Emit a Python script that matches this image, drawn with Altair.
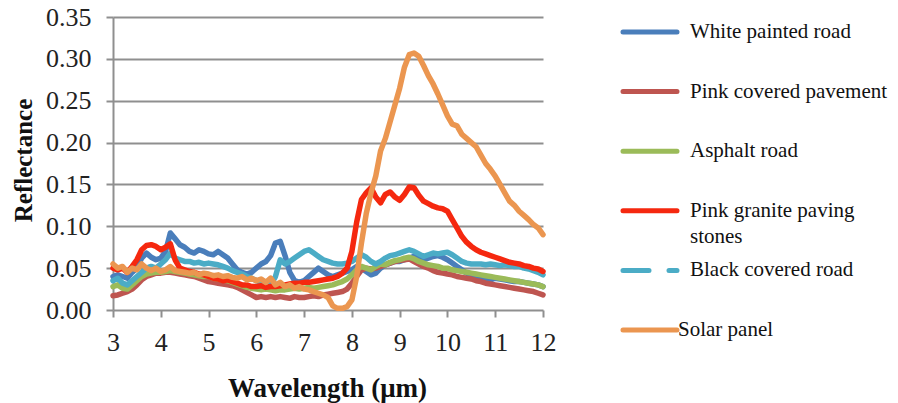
import altair as alt
import pandas as pd

WAVELENGTH = [3.0, 3.1, 3.2, 3.3, 3.4, 3.5, 3.6, 3.7, 3.8, 3.9,
              4.0, 4.1, 4.2, 4.3, 4.4, 4.5, 4.6, 4.7, 4.8, 4.9,
              5.0, 5.1, 5.2, 5.3, 5.4, 5.5, 5.6, 5.7, 5.8, 5.9,
              6.0, 6.1, 6.2, 6.3, 6.4, 6.5, 6.6, 6.7, 6.8, 6.9,
              7.0, 7.1, 7.2, 7.3, 7.4, 7.5, 7.6, 7.7, 7.8, 7.9,
              8.0, 8.1, 8.2, 8.3, 8.4, 8.5, 8.6, 8.7, 8.8, 8.9,
              9.0, 9.1, 9.2, 9.3, 9.4, 9.5, 9.6, 9.7, 9.8, 9.9,
              10.0, 10.1, 10.2, 10.3, 10.4, 10.5, 10.6, 10.7, 10.8, 10.9,
              11.0, 11.1, 11.2, 11.3, 11.4, 11.5, 11.6, 11.7, 11.8, 11.9,
              12.0]

WHITE_PAINTED = [0.040, 0.042, 0.040, 0.038, 0.045, 0.050, 0.062, 0.068, 0.063, 0.060,
                 0.062, 0.070, 0.092, 0.085, 0.078, 0.075, 0.070, 0.068, 0.072, 0.070,
                 0.067, 0.066, 0.070, 0.066, 0.062, 0.055, 0.048, 0.045, 0.043, 0.045,
                 0.050, 0.055, 0.058, 0.065, 0.080, 0.082, 0.065, 0.045, 0.035, 0.033,
                 0.035, 0.040, 0.045, 0.050, 0.046, 0.042, 0.040, 0.042, 0.044, 0.046,
                 0.048, 0.052, 0.050, 0.046, 0.042, 0.044, 0.050, 0.054, 0.056, 0.058,
                 0.058, 0.060, 0.062, 0.064, 0.062, 0.060, 0.062, 0.064, 0.065, 0.063,
                 0.060, 0.056, 0.052, 0.048, 0.044, 0.041, 0.039, 0.037, 0.036, 0.036,
                 0.038, 0.037, 0.036, 0.035, 0.034, 0.034, 0.033, 0.032, 0.031, 0.030,
                 0.028]

PINK_COVERED = [0.017, 0.018, 0.020, 0.022, 0.025, 0.030, 0.036, 0.040, 0.042, 0.044,
                0.044, 0.045, 0.045, 0.044, 0.043, 0.042, 0.041, 0.040, 0.038, 0.036,
                0.034, 0.033, 0.032, 0.031, 0.030, 0.029, 0.027, 0.024, 0.021, 0.018,
                0.015, 0.016, 0.015, 0.016, 0.015, 0.016, 0.015, 0.014, 0.016, 0.015,
                0.015, 0.016, 0.017, 0.016, 0.018, 0.019, 0.020, 0.021, 0.022, 0.025,
                0.032, 0.040, 0.048, 0.050, 0.049, 0.050, 0.052, 0.054, 0.056, 0.058,
                0.059, 0.060, 0.061, 0.058, 0.055, 0.052, 0.050, 0.047, 0.045, 0.044,
                0.043, 0.042, 0.040, 0.039, 0.038, 0.037, 0.035, 0.034, 0.032, 0.031,
                0.030, 0.029, 0.028, 0.027, 0.026, 0.025, 0.024, 0.023, 0.022, 0.020,
                0.018]

ASPHALT = [0.028, 0.030, 0.026, 0.025, 0.030, 0.035, 0.040, 0.043, 0.044, 0.045,
           0.045, 0.046, 0.047, 0.046, 0.045, 0.044, 0.043, 0.042, 0.041, 0.040,
           0.040, 0.038, 0.037, 0.036, 0.035, 0.033, 0.031, 0.029, 0.027, 0.026,
           0.025, 0.024, 0.025, 0.024, 0.023, 0.024, 0.024, 0.025, 0.026, 0.025,
           0.026, 0.027, 0.026, 0.027, 0.028, 0.029, 0.030, 0.032, 0.034, 0.037,
           0.042, 0.048, 0.052, 0.050, 0.048, 0.052, 0.055, 0.054, 0.057, 0.059,
           0.060, 0.062, 0.063, 0.061, 0.058, 0.056, 0.054, 0.053, 0.052, 0.050,
           0.050, 0.048, 0.047, 0.046, 0.045, 0.044, 0.043, 0.042, 0.041, 0.040,
           0.039, 0.038, 0.037, 0.036, 0.035, 0.034, 0.033, 0.032, 0.031, 0.030,
           0.028]

BLACK_COVERED = [0.035, 0.038, 0.032, 0.030, 0.035, 0.040, 0.045, 0.050, 0.052, 0.050,
                 0.055, 0.060, 0.068, 0.062, 0.060, 0.058, 0.058, 0.056, 0.057, 0.055,
                 0.056, 0.055, 0.054, 0.052, 0.050, 0.047, 0.045, 0.043, 0.040, 0.038,
                 0.035, 0.033, 0.030, 0.030, 0.040, 0.060, 0.055, 0.058, 0.062, 0.066,
                 0.070, 0.072, 0.068, 0.064, 0.060, 0.058, 0.056, 0.055, 0.055, 0.056,
                 0.058, 0.062, 0.066, 0.063, 0.058, 0.055, 0.058, 0.062, 0.065, 0.066,
                 0.068, 0.070, 0.072, 0.070, 0.067, 0.064, 0.066, 0.068, 0.067, 0.068,
                 0.069, 0.066, 0.062, 0.058, 0.056, 0.055, 0.055, 0.055, 0.054, 0.055,
                 0.054, 0.053, 0.054, 0.053, 0.052, 0.052, 0.050, 0.049, 0.047, 0.045,
                 0.042]

PINK_GRANITE = [0.050, 0.048, 0.050, 0.045, 0.052, 0.060, 0.072, 0.077, 0.078, 0.076,
                0.072, 0.075, 0.079, 0.060, 0.050, 0.048, 0.046, 0.045, 0.043, 0.042,
                0.040, 0.038, 0.037, 0.035, 0.036, 0.034, 0.032, 0.030, 0.030, 0.028,
                0.028, 0.029, 0.027, 0.028, 0.028, 0.029, 0.030, 0.031, 0.032, 0.032,
                0.033, 0.033, 0.034, 0.035, 0.036, 0.037, 0.038, 0.040, 0.044, 0.050,
                0.070, 0.105, 0.132, 0.140, 0.146, 0.135, 0.128, 0.138, 0.141, 0.135,
                0.131, 0.138, 0.147, 0.146, 0.137, 0.130, 0.127, 0.124, 0.122, 0.121,
                0.118, 0.108, 0.098, 0.088, 0.081, 0.076, 0.072, 0.069, 0.067, 0.065,
                0.063, 0.061, 0.059, 0.057, 0.056, 0.055, 0.053, 0.052, 0.050, 0.049,
                0.046]

SOLAR_PANEL = [0.055, 0.050, 0.052, 0.045, 0.050, 0.048, 0.055, 0.050, 0.047, 0.050,
               0.046, 0.048, 0.052, 0.047, 0.046, 0.045, 0.044, 0.045, 0.042, 0.044,
               0.043, 0.041, 0.042, 0.040, 0.041, 0.039, 0.038, 0.040, 0.036, 0.038,
               0.035, 0.037, 0.033, 0.038, 0.030, 0.033, 0.028, 0.030, 0.026, 0.028,
               0.025, 0.024, 0.022, 0.020, 0.018, 0.015, 0.005, 0.002, 0.002, 0.004,
               0.012, 0.040, 0.080, 0.115, 0.140, 0.160, 0.190, 0.205, 0.225, 0.245,
               0.265, 0.290, 0.305, 0.307, 0.303, 0.292, 0.280, 0.270, 0.258, 0.245,
               0.232, 0.222, 0.220, 0.210, 0.205, 0.200, 0.195, 0.185, 0.175, 0.168,
               0.160, 0.150, 0.140, 0.130, 0.125, 0.118, 0.113, 0.108, 0.102, 0.098,
               0.090]

NAMES = ["White painted road", "Pink covered pavement", "Asphalt road",
         "Pink granite paving stones", "Black covered road", "Solar panel"]
COLORS = ["#4A7EBB", "#BE5550", "#9BBB59", "#F5280F", "#4BACC6", "#EB9650"]
LEGEND_LINE1 = ["White painted road", "Pink covered pavement", "Asphalt road",
                "Pink granite paving", "Black covered road", "Solar panel"]
LEGEND_LINE2 = ["", "", "", "stones", "", ""]

SERIES = {
    "White painted road": WHITE_PAINTED,
    "Pink covered pavement": PINK_COVERED,
    "Asphalt road": ASPHALT,
    "Pink granite paving stones": PINK_GRANITE,
    "Black covered road": BLACK_COVERED,
    "Solar panel": SOLAR_PANEL,
}
DRAW_ORDER = ["White painted road", "Pink covered pavement", "Asphalt road",
              "Black covered road", "Pink granite paving stones", "Solar panel"]

rows = []
for name, vals in SERIES.items():
    for w, v in zip(WAVELENGTH, vals):
        rows.append({"series": name, "wl": w, "refl": v})
df = pd.DataFrame(rows)

legdf = pd.DataFrame({"name": NAMES, "line1": LEGEND_LINE1, "line2": LEGEND_LINE2})

FONT = "Times New Roman, Liberation Serif, serif"

x_enc = alt.X("wl:Q", scale=alt.Scale(domain=[3, 12], nice=False, zero=False),
              axis=alt.Axis(values=list(range(3, 13)), format="d", grid=False, domain=False,
                            tickColor="#8f8f8f", tickWidth=2, tickSize=7,
                            labelFont=FONT, labelFontSize=26, labelColor="#222222",
                            labelPadding=12, labelFlush=False, labelOverlap=False,
                            title="Wavelength (μm)", titleFont=FONT, titleFontSize=27,
                            titleFontWeight="bold", titleColor="#111111",
                            titleX=214, titleY=78, titleBaseline="middle", titleAlign="center"))
y_enc = alt.Y("refl:Q", scale=alt.Scale(domain=[0, 0.35], nice=False),
              axis=alt.Axis(values=[0, 0.05, 0.1, 0.15, 0.2, 0.25, 0.3, 0.35], format=".2f",
                            grid=True, gridColor="#8f8f8f", gridWidth=2,
                            domain=True, domainColor="#8f8f8f", domainWidth=2,
                            tickColor="#8f8f8f", tickWidth=2, tickSize=7,
                            labelFont=FONT, labelFontSize=26, labelColor="#222222",
                            labelPadding=15, labelFlush=False, labelOverlap=False,
                            title="Reflectance", titleFont=FONT, titleFontSize=25,
                            titleFontWeight="bold", titleColor="#111111",
                            titleX=-90, titleY=143, titleBaseline="middle", titleAlign="center",
                            titleAngle=270))

layers = []
for name in DRAW_ORDER:
    col = COLORS[NAMES.index(name)]
    layers.append(
        alt.Chart(df).transform_filter(alt.datum.series == name)
        .mark_line(color=col, strokeWidth=5.5, strokeJoin="round", strokeCap="round")
        .encode(x=x_enc, y=y_enc)
    )
lines = alt.layer(*layers)

ly = alt.Y("name:N", scale=alt.Scale(type="point", domain=NAMES, range=[15, 313], padding=0), axis=None)
lcol = alt.Color("name:N", scale=alt.Scale(domain=NAMES, range=COLORS), legend=None)

leg_lines = alt.Chart(legdf).mark_rule(strokeWidth=5, strokeCap="round").encode(
    x=alt.value(510), x2=alt.value(564), y=ly, color=lcol,
    strokeDash=alt.condition(alt.datum.name == "Black covered road",
                             alt.value([26, 20]), alt.value([1, 0])))
leg_text = alt.Chart(legdf).transform_filter(alt.datum.name != "Solar panel").mark_text(
    align="left", baseline="middle", font=FONT, fontSize=21, color="#111111").encode(
    x=alt.value(577), y=ly, text="line1:N")
leg_text_solar = alt.Chart(legdf).transform_filter(alt.datum.name == "Solar panel").mark_text(
    align="left", baseline="middle", font=FONT, fontSize=21, color="#111111").encode(
    x=alt.value(565), y=ly, text="line1:N")
leg_text2 = alt.Chart(legdf).transform_filter(alt.datum.line2 != "").mark_text(
    align="left", baseline="middle", font=FONT, fontSize=21, color="#111111", dy=26).encode(
    x=alt.value(577), y=ly, text="line2:N")
legend = alt.layer(leg_lines, leg_text, leg_text_solar, leg_text2)

chart = alt.layer(lines, legend).resolve_scale(
    y="independent", color="independent"
).properties(
    width=430, height=293,
    autosize=alt.AutoSizeParams(type="none"),
    padding={"left": 113, "top": 17, "right": 355, "bottom": 93},
    background="white",
).configure(font=FONT).configure_view(stroke=None)

chart.save("out.html", embed_options={"renderer": "svg", "actions": False})
